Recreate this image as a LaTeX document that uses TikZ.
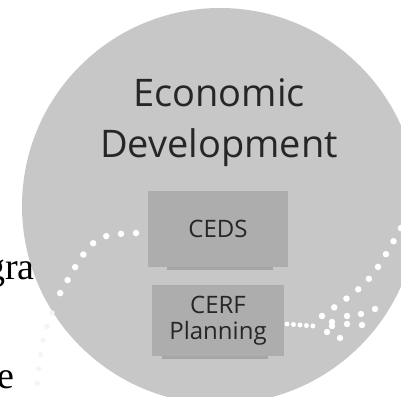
\documentclass[tikz,border=0pt]{standalone}
\usepackage{fontspec}
\setmainfont{Liberation Serif}
\newfontfamily\cardfont{Open Sans}
\usetikzlibrary{positioning}

\begin{document}
\begin{tikzpicture}[x=1pt,y=-1pt,%
% common options for the grey cards:
card/.style = {fill=black!32, align=center, inner sep=0, text=black!85,
            font=\cardfont\fontsize{24}{26}\selectfont},
% common options for the shadow under a card:
drop/.style = {fill=black!50, opacity=0.45},
% common options for the white dotted trails:
trail/.style = {draw=white, line width=6.5pt, line cap=round, dash pattern=on 0pt off 15pt},
speck/.style = {fill=white}]
\useasboundingbox (0,0) rectangle (401,396);
\fill[black!22] (220,206) circle (198);

\node[anchor=base east, inner sep=0, font=\fontsize{38}{44}\selectfont] (Gra) at (35,279) {gra};
\node[anchor=base east, inner sep=0, font=\fontsize{38}{44}\selectfont] (E) at (15,388) {e};

\node[align=center, inner sep=0, text=black!85, anchor=base,
      font=\cardfont\fontsize{38}{51}\selectfont] (Title) at (219,157) {Economic\\Development};

% trails
\coordinate (L0) at (136,233);
\coordinate (L1) at (58,297);
\coordinate (L2) at (52,313);
\coordinate (L3) at (37,385);
\draw[trail] (L0) .. controls (93,235) .. (L1);
\draw[trail, draw=black!4, line width=5.5pt, dash pattern=on 0pt off 14.4pt] (L2) .. controls (42,340) .. (L3);

\coordinate (R0) at (287,324);
\coordinate (R1) at (313,326);
\coordinate (R2) at (322,316);
\coordinate (R3) at (401,228);
\draw[trail, line width=5pt, dash pattern=on 0pt off 6.5pt] (R0) -- (R1);
\draw[trail] (R2) .. controls (370.5,282) .. (R3);
\foreach \p in {(332,322),(332,326),(327,332),(347,316),(347,324),(340,338),(361,314),(362,325),(375,309)}
  \fill[speck] \p circle (3.2);

% cards
\fill[drop] (167,265) rectangle (273,270);
\fill[drop] (162,354) rectangle (268,359);
\node[card, minimum width=140pt, minimum height=76pt] (CEDS) at (218,229) {CEDS};
\node[card, minimum width=132pt, minimum height=71pt, below=18pt of CEDS] (CERF) {CERF\\Planning};
\end{tikzpicture}
\end{document}
